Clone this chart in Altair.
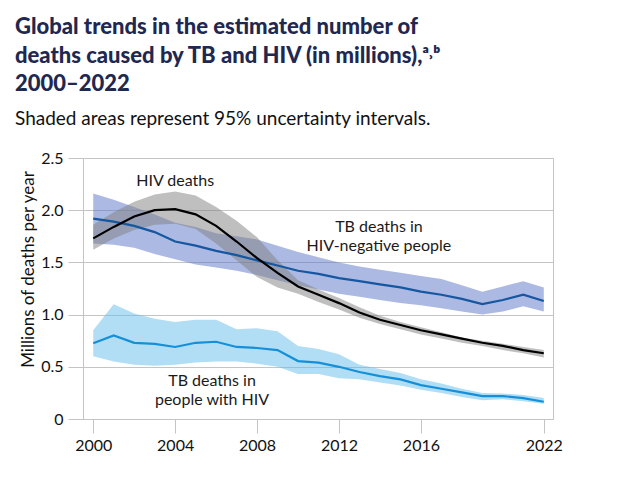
import altair as alt
import pandas as pd

years = list(range(2000, 2023))

hiv = [1.73, 1.84, 1.94, 2.00, 2.01, 1.96, 1.85, 1.70, 1.54, 1.40, 1.27, 1.19,
       1.11, 1.02, 0.95, 0.90, 0.85, 0.81, 0.77, 0.73, 0.70, 0.66, 0.63]
hiv_lo = [1.62, 1.73, 1.81, 1.86, 1.87, 1.82, 1.68, 1.52, 1.36, 1.26, 1.20, 1.12,
          1.05, 0.97, 0.91, 0.86, 0.81, 0.77, 0.73, 0.70, 0.66, 0.63, 0.59]
hiv_hi = [1.86, 1.98, 2.08, 2.15, 2.18, 2.14, 2.03, 1.90, 1.74, 1.52, 1.33, 1.24,
          1.16, 1.07, 0.99, 0.93, 0.88, 0.83, 0.78, 0.75, 0.72, 0.69, 0.66]

tbneg = [1.92, 1.89, 1.85, 1.79, 1.70, 1.66, 1.61, 1.57, 1.52, 1.47, 1.42, 1.39,
         1.35, 1.32, 1.29, 1.26, 1.22, 1.19, 1.15, 1.10, 1.14, 1.19, 1.13]
tbneg_lo = [1.68, 1.67, 1.64, 1.58, 1.53, 1.48, 1.45, 1.42, 1.38, 1.33, 1.28, 1.24,
            1.20, 1.17, 1.14, 1.11, 1.09, 1.06, 1.03, 1.00, 1.03, 1.08, 1.03]
tbneg_hi = [2.16, 2.10, 2.03, 1.96, 1.88, 1.84, 1.78, 1.75, 1.72, 1.66, 1.60, 1.55,
            1.50, 1.46, 1.43, 1.40, 1.37, 1.34, 1.28, 1.22, 1.27, 1.32, 1.26]

tbpos = [0.725, 0.80, 0.73, 0.72, 0.69, 0.73, 0.74, 0.69, 0.68, 0.66, 0.555, 0.54,
         0.50, 0.45, 0.41, 0.38, 0.325, 0.29, 0.255, 0.22, 0.22, 0.20, 0.165]
tbpos_lo = [0.60, 0.55, 0.52, 0.51, 0.52, 0.54, 0.55, 0.55, 0.53, 0.50, 0.43, 0.43,
            0.39, 0.38, 0.35, 0.32, 0.28, 0.25, 0.21, 0.18, 0.19, 0.17, 0.145]
tbpos_hi = [0.85, 1.10, 1.01, 0.96, 0.93, 0.95, 0.95, 0.86, 0.87, 0.84, 0.70, 0.67,
            0.62, 0.52, 0.48, 0.44, 0.38, 0.34, 0.29, 0.25, 0.245, 0.23, 0.20]

series_names = ["TB HIV-negative", "TB HIV-positive", "HIV"]
line_colors = ["#1557a0", "#1590d8", "#000000"]
band_colors = ["#5a73c8", "#63bdec", "#808080"]
line_widths = [2.2, 2.2, 2.6]
x_ticks = [2000, 2004, 2008, 2012, 2016, 2022]
y_ticks = [0, 0.5, 1.0, 1.5, 2.0, 2.5]

rows = []
for name, v, lo, hi in [
    ("TB HIV-negative", tbneg, tbneg_lo, tbneg_hi),
    ("TB HIV-positive", tbpos, tbpos_lo, tbpos_hi),
    ("HIV", hiv, hiv_lo, hiv_hi),
]:
    for y, a, b, c in zip(years, v, lo, hi):
        rows.append({"series": name, "year": y, "value": a, "lo": b, "hi": c})
df = pd.DataFrame(rows)

FONT = "Lato"
GRID = "#c4c4c4"

xscale = alt.Scale(domain=[1999.5, 2022.45], nice=False, zero=False)
yscale = alt.Scale(domain=[0, 2.5], nice=False)

x_enc = alt.X(
    "year:Q", scale=xscale,
    axis=alt.Axis(values=x_ticks, format="d", title=None, grid=False,
                  tickSize=14, tickColor=GRID, domainColor=GRID,
                  labelFontSize=16, labelColor="#111", labelFont=FONT,
                  labelPadding=4, labelFlush=False),
)
y_axis = alt.Axis(
    values=y_ticks, title="Millions of deaths per year",
    labelExpr="datum.value == 0 ? '0' : format(datum.value, '.1f')",
    grid=True, gridColor=GRID, tickSize=15, tickColor=GRID, domainColor=GRID,
    labelFontSize=16, labelColor="#111", labelFont=FONT, labelPadding=5,
    titleFontSize=17, titleFont=FONT, titleFontWeight="normal", titleColor="#111",
    titleX=-55, titleY=111, titleBaseline="middle", titleAngle=270,
)

base = alt.Chart(df)

bands = base.mark_area(opacity=0.5).encode(
    x=x_enc,
    y=alt.Y("lo:Q", scale=yscale, axis=y_axis),
    y2="hi:Q",
    color=alt.Color("series:N", scale=alt.Scale(domain=series_names, range=band_colors), legend=None),
)

lines = base.mark_line().encode(
    x=alt.X("year:Q", scale=xscale),
    y=alt.Y("value:Q", scale=yscale),
    stroke=alt.Stroke("series:N", scale=alt.Scale(domain=series_names, range=line_colors), legend=None),
    strokeWidth=alt.StrokeWidth("series:N", scale=alt.Scale(domain=series_names, range=line_widths), legend=None),
)

def label(txt, xv, yv):
    return alt.Chart().mark_text(
        text=txt, font=FONT, fontSize=16, color="#1a1a1a", align="center",
        baseline="middle", lineHeight=19,
    ).encode(x=alt.datum(xv, scale=xscale), y=alt.datum(yv, scale=yscale))

ann1 = label("HIV deaths", 2004.0, 2.28)
ann2 = label(["TB deaths in", "HIV-negative people"], 2013.95, 1.84)
ann3 = label(["TB deaths in", "people with HIV"], 2005.8, 0.36)

chart = alt.layer(bands, lines, ann1, ann2, ann3).resolve_scale(
    color="independent", stroke="independent", strokeWidth="independent"
).properties(
    width=470, height=261,
    autosize=alt.AutoSizeParams(type="none"),
    padding={"left": 75, "top": 150, "right": 50, "bottom": 50},
    title=alt.TitleParams(
        text=["Global trends in the estimated number of",
              "deaths caused by TB and HIV (in millions),ᵃ˒ᵇ",
              "2000–2022"],
        subtitle="Shaded areas represent 95% uncertainty intervals.",
        anchor="start", frame="group", dx=-68, offset=20,
        font=FONT, fontSize=22, fontWeight=900, color="#1f2850", lineHeight=28.5,
        subtitleFont=FONT, subtitleFontSize=19, subtitleColor="#111",
        subtitlePadding=14,
    ),
).configure_view(stroke=GRID, strokeWidth=1)

chart.save("out.html", embed_options={"renderer": "svg", "actions": False})
